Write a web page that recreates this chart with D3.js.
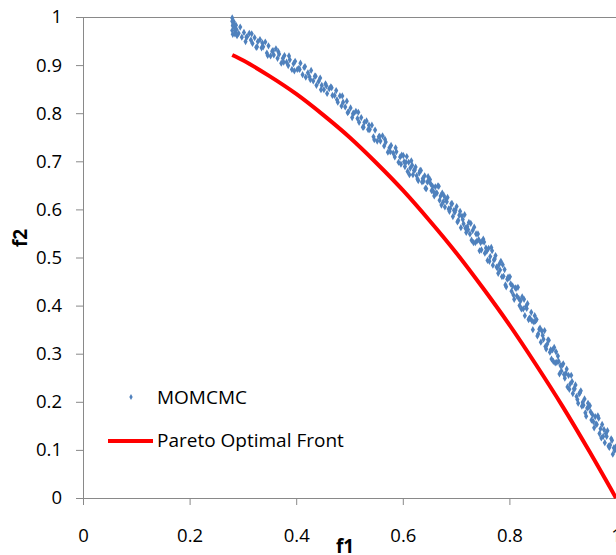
<!DOCTYPE html>
<html>
    <head>
        <style>
            body { margin: 0; background: #fff; }
            svg { display: block; background: #fff; }
            text { font-family: "Open Sans", sans-serif; fill: #000; }
        </style>
    </head>
    <body>
        <div id="chart"></div>

        <script src="https://cdnjs.cloudflare.com/ajax/libs/d3/7.8.5/d3.min.js"></script>

    <script>
        var xTicks = [0, 0.2, 0.4, 0.6, 0.8, 1];
        var yTicks = [0, 0.1, 0.2, 0.3, 0.4, 0.5, 0.6, 0.7, 0.8, 0.9, 1];
        var seriesNames = ["MOMCMC", "Pareto Optimal Front"];

        // Pareto optimal front
        var paretoF1 = [0.28, 0.30, 0.35, 0.40, 0.45, 0.50, 0.55, 0.60, 0.65, 0.70, 0.75, 0.80, 0.85, 0.90, 0.95, 1.00];
        var paretoF2 = [0.921, 0.910, 0.877, 0.840, 0.797, 0.750, 0.697, 0.640, 0.577, 0.510, 0.437, 0.360, 0.277, 0.190, 0.097, 0.0];

        // MOMCMC samples [f1, f2]
        var momcmc = [
            [0.280,0.998],[0.280,0.991],[0.281,0.982],[0.280,0.972],[0.281,0.964],[0.283,0.990],[0.284,0.978],[0.286,0.969],[0.287,0.983],[0.289,0.961],
            [0.282,0.985],[0.285,0.965],[0.288,0.974],[0.292,0.966],[0.295,0.979],[0.298,0.958],
            [0.302,0.968],[0.305,0.949],[0.308,0.959],[0.312,0.966],[0.315,0.952],[0.318,0.945],
            [0.322,0.957],[0.325,0.937],[0.328,0.949],[0.332,0.953],[0.335,0.936],[0.338,0.938],
            [0.342,0.948],[0.345,0.925],[0.348,0.940],[0.352,0.919],[0.355,0.929],[0.358,0.921],
            [0.362,0.934],[0.365,0.914],[0.368,0.923],[0.372,0.904],[0.375,0.914],[0.378,0.920],
            [0.382,0.906],[0.385,0.899],[0.388,0.911],[0.392,0.891],[0.395,0.903],[0.398,0.908],
            [0.402,0.891],[0.405,0.893],[0.408,0.904],[0.412,0.880],[0.415,0.895],[0.418,0.875],
            [0.422,0.884],[0.425,0.876],[0.428,0.889],[0.432,0.867],[0.435,0.877],[0.438,0.858],
            [0.442,0.866],[0.445,0.873],[0.448,0.858],[0.452,0.849],[0.455,0.861],[0.458,0.841],
            [0.462,0.851],[0.465,0.855],[0.468,0.837],[0.472,0.837],[0.475,0.847],[0.478,0.823],
            [0.482,0.836],[0.485,0.815],[0.488,0.823],[0.492,0.813],[0.495,0.825],[0.498,0.803],
            [0.502,0.811],[0.505,0.791],[0.508,0.800],[0.512,0.804],[0.515,0.789],[0.518,0.781],
            [0.522,0.791],[0.525,0.771],[0.528,0.781],[0.532,0.784],[0.535,0.766],[0.538,0.766],
            [0.542,0.775],[0.545,0.751],[0.548,0.765],[0.552,0.742],[0.555,0.751],[0.558,0.742],
            [0.562,0.753],[0.565,0.732],[0.568,0.740],[0.572,0.719],[0.575,0.728],[0.578,0.733],
            [0.582,0.717],[0.585,0.709],[0.588,0.720],[0.592,0.698],[0.595,0.709],[0.598,0.713],
            [0.3065,0.958],[0.3165,0.965],[0.3265,0.938],[0.3365,0.946],[0.3465,0.920],[0.3565,0.930],[0.3665,0.928],[0.3765,0.906],
            [0.3865,0.919],[0.3965,0.888],[0.4065,0.891],[0.4165,0.897],[0.4265,0.870],[0.4365,0.877],[0.4465,0.849],[0.4565,0.857],
            [0.4665,0.853],[0.4765,0.828],[0.4865,0.836],[0.4965,0.801],[0.5065,0.799],[0.5165,0.802],[0.5265,0.771],[0.5365,0.775],
            [0.5465,0.745],[0.5565,0.752],[0.5665,0.746],[0.5765,0.720],[0.5865,0.728],[0.5965,0.694],
            [0.601,0.712],[0.604,0.689],[0.606,0.698],[0.609,0.679],[0.611,0.698],[0.614,0.686],[0.616,0.701],[0.619,0.672],
            [0.621,0.681],[0.624,0.688],[0.626,0.670],[0.629,0.660],[0.631,0.676],[0.634,0.681],[0.636,0.657],[0.639,0.659],
            [0.641,0.670],[0.644,0.643],[0.646,0.657],[0.649,0.659],[0.651,0.662],[0.654,0.639],[0.656,0.648],[0.659,0.628],
            [0.661,0.647],[0.664,0.634],[0.666,0.649],[0.669,0.619],[0.671,0.628],[0.674,0.634],[0.676,0.616],[0.679,0.605],
            [0.681,0.621],[0.684,0.625],[0.686,0.601],[0.689,0.602],[0.691,0.612],[0.694,0.585],[0.696,0.598],[0.699,0.599],
            [0.701,0.606],[0.704,0.577],[0.706,0.588],[0.709,0.562],[0.711,0.586],[0.714,0.570],[0.716,0.589],[0.719,0.552],
            [0.721,0.564],[0.724,0.573],[0.726,0.549],[0.729,0.536],[0.731,0.556],[0.734,0.563],[0.736,0.531],[0.739,0.534],
            [0.741,0.549],[0.744,0.514],[0.746,0.531],[0.749,0.534],[0.751,0.538],[0.754,0.509],[0.756,0.520],[0.759,0.494],
            [0.761,0.519],[0.764,0.502],[0.766,0.521],[0.769,0.484],[0.771,0.495],[0.774,0.504],[0.776,0.480],[0.779,0.467],
            [0.781,0.486],[0.784,0.492],[0.786,0.460],[0.789,0.461],[0.791,0.475],[0.794,0.439],[0.796,0.455],[0.799,0.457],
            [0.801,0.460],[0.804,0.430],[0.806,0.441],[0.809,0.413],[0.811,0.437],[0.814,0.420],[0.816,0.438],[0.819,0.400],
            [0.821,0.410],[0.824,0.418],[0.826,0.393],[0.829,0.379],[0.831,0.398],[0.834,0.404],[0.836,0.371],[0.839,0.373],
            [0.841,0.386],[0.844,0.350],[0.846,0.366],[0.849,0.368],[0.851,0.371],[0.854,0.341],[0.856,0.351],[0.859,0.324],
            [0.861,0.347],[0.864,0.330],[0.866,0.348],[0.869,0.310],[0.871,0.320],[0.874,0.328],[0.876,0.303],[0.879,0.289],
            [0.881,0.308],[0.884,0.313],[0.886,0.281],[0.889,0.282],[0.891,0.295],[0.894,0.258],[0.896,0.275],[0.899,0.276],
            [0.901,0.279],[0.904,0.249],[0.906,0.259],[0.909,0.231],[0.911,0.255],[0.914,0.237],[0.916,0.255],[0.919,0.217],
            [0.921,0.227],[0.924,0.235],[0.926,0.211],[0.929,0.197],[0.931,0.217],[0.934,0.223],[0.936,0.191],[0.939,0.193],
            [0.941,0.206],[0.944,0.170],[0.946,0.187],[0.949,0.189],[0.951,0.192],[0.954,0.162],[0.956,0.173],[0.959,0.146],
            [0.961,0.169],[0.964,0.153],[0.966,0.171],[0.969,0.134],[0.971,0.144],[0.974,0.153],[0.976,0.128],[0.979,0.115],
            [0.981,0.134],[0.984,0.140],[0.986,0.108],[0.989,0.110],[0.991,0.123],[0.994,0.091],[0.996,0.104],[0.999,0.106],
            [0.6025,0.699],[0.6075,0.710],[0.6125,0.672],[0.6175,0.692],[0.6225,0.682],[0.6275,0.663],[0.6325,0.681],[0.6375,0.664],
            [0.6425,0.644],[0.6475,0.668],[0.6525,0.653],[0.6575,0.637],[0.6625,0.634],[0.6675,0.648],[0.6725,0.609],[0.6775,0.628],
            [0.6825,0.616],[0.6875,0.596],[0.6925,0.612],[0.6975,0.594],[0.7025,0.574],[0.7075,0.596],[0.7125,0.579],[0.7175,0.561],
            [0.7225,0.558],[0.7275,0.571],[0.7325,0.531],[0.7375,0.549],[0.7425,0.537],[0.7475,0.516],[0.7525,0.532],[0.7575,0.513],
            [0.7625,0.492],[0.7675,0.514],[0.7725,0.497],[0.7775,0.479],[0.7825,0.474],[0.7875,0.485],[0.7925,0.443],[0.7975,0.459],
            [0.8025,0.445],[0.8075,0.422],[0.8125,0.436],[0.8175,0.415],[0.8225,0.393],[0.8275,0.413],[0.8325,0.394],[0.8375,0.374],
            [0.8425,0.368],[0.8475,0.379],[0.8525,0.337],[0.8575,0.353],[0.8625,0.338],[0.8675,0.315],[0.8725,0.329],[0.8775,0.308],
            [0.8825,0.284],[0.8875,0.304],[0.8925,0.284],[0.8975,0.264],[0.9025,0.257],[0.9075,0.268],[0.9125,0.226],[0.9175,0.242],
            [0.9225,0.227],[0.9275,0.205],[0.9325,0.219],[0.9375,0.199],[0.9425,0.177],[0.9475,0.197],[0.9525,0.179],[0.9575,0.159],
            [0.9625,0.154],[0.9675,0.166],[0.9725,0.125],[0.9775,0.142],[0.9825,0.128],[0.9875,0.105],[0.9925,0.120],[0.9975,0.099]
        ];

        (function() {
            var width = 616,
                height = 555;
            var left = 83, right = 616, top = 17, bottom = 498;
            var axisColor = "#898989";

            var svg = d3.select("#chart")
                .append("svg")
                .attr("width", width)
                .attr("height", height);

            var x = d3.scaleLinear().domain([0, 1]).range([left, right]);
            var y = d3.scaleLinear().domain([0, 1]).range([bottom, top]);

            // top border of plot area
            svg.append("line")
                .attr("x1", left).attr("x2", right)
                .attr("y1", top + 0.5).attr("y2", top + 0.5)
                .attr("stroke", axisColor);

            var yAxis = svg.append("g")
                .attr("transform", "translate(" + left + ",0)")
                .call(d3.axisLeft(y).tickValues(yTicks).tickSize(7).tickSizeOuter(0).tickPadding(14)
                    .tickFormat(function(d) { return String(d); }));

            var xAxis = svg.append("g")
                .attr("transform", "translate(0," + bottom + ")")
                .call(d3.axisBottom(x).tickValues(xTicks).tickSize(7).tickSizeOuter(0).tickPadding(24)
                    .tickFormat(function(d) { return String(d); }));

            svg.selectAll(".tick line, .domain").attr("stroke", axisColor);
            svg.selectAll(".tick text")
                .attr("fill", "#000")
                .style("font-family", "'Open Sans', sans-serif")
                .style("font-size", "18.5px");

            // axis titles
            svg.append("text")
                .attr("x", 345)
                .attr("y", 553)
                .attr("text-anchor", "middle")
                .style("font-size", "19px")
                .style("font-weight", "bold")
                .text("f1");

            svg.append("text")
                .attr("transform", "translate(27,238) rotate(-90)")
                .attr("text-anchor", "middle")
                .style("font-size", "19px")
                .style("font-weight", "bold")
                .text("f2");

            var diamond = d3.symbol().type(d3.symbolDiamond).size(15);

            svg.append("g")
                .selectAll(".pt")
                .data(momcmc)
                .enter().append("path")
                .attr("class", "pt")
                .attr("d", diamond)
                .attr("transform", function(d) {
                    return "translate(" + x(d[0]) + "," + y(d[1]) + ")";
                })
                .attr("fill", "#4f81bd");

            var line = d3.line()
                .x(function(d, i) { return x(paretoF1[i]); })
                .y(function(d, i) { return y(paretoF2[i]); })
                .curve(d3.curveMonotoneX);

            svg.append("path")
                .datum(paretoF1)
                .attr("d", line)
                .attr("fill", "none")
                .attr("stroke", "#ff0000")
                .attr("stroke-width", 4);

            // legend
            var legend = svg.append("g");
            legend.append("path")
                .attr("d", d3.symbol().type(d3.symbolDiamond).size(10))
                .attr("transform", "translate(131,397)")
                .attr("fill", "#4f81bd");
            legend.append("text")
                .attr("x", 157).attr("y", 397)
                .attr("dy", "0.35em")
                .style("font-size", "19px")
                .text(seriesNames[0]);
            legend.append("line")
                .attr("x1", 108).attr("x2", 153)
                .attr("y1", 441).attr("y2", 441)
                .attr("stroke", "#ff0000")
                .attr("stroke-width", 4);
            legend.append("text")
                .attr("x", 157).attr("y", 440)
                .attr("dy", "0.35em")
                .style("font-size", "19px")
                .text(seriesNames[1]);
        })();
    </script>
    </body>
</html>
